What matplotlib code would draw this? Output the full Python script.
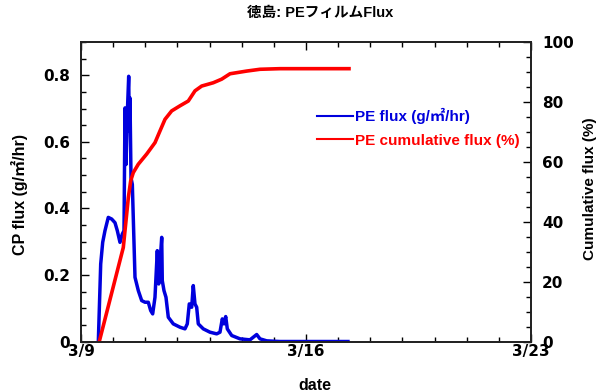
import matplotlib
matplotlib.use("Agg")
import matplotlib.pyplot as plt
from matplotlib.ticker import MultipleLocator, FixedLocator

plt.rcParams['font.family'] = ['DejaVu Sans', 'Noto Sans CJK JP']
plt.rcParams['font.weight'] = 'bold'
LAB_FONT = ['Liberation Sans', 'Noto Sans CJK JP', 'DejaVu Sans']

# PE flux (g/m2/hr) vs day of March
flux_day = [9.539, 9.613, 9.675, 9.746, 9.849, 9.955, 10.058, 10.130, 10.213, 10.285,
            10.338, 10.369, 10.400, 10.440, 10.484, 10.503, 10.524, 10.556, 10.597, 10.680,
            10.783, 10.888, 10.991, 11.094, 11.168, 11.230, 11.302, 11.374, 11.418, 11.457,
            11.511, 11.529, 11.582, 11.644, 11.716, 11.871, 12.080, 12.235, 12.307, 12.369,
            12.444, 12.493, 12.546, 12.599, 12.649, 12.805, 13.013, 13.222, 13.324, 13.396,
            13.449, 13.502, 13.552, 13.689, 13.947, 14.257, 14.466, 14.569, 14.778, 15.191,
            17.306]
flux_val = [0.0, 0.233, 0.298, 0.333, 0.373, 0.368, 0.357, 0.333, 0.298, 0.323,
            0.333, 0.702, 0.532, 0.682, 0.797, 0.632, 0.732, 0.492, 0.472, 0.193,
            0.153, 0.123, 0.118, 0.118, 0.093, 0.083, 0.133, 0.273, 0.173, 0.233,
            0.313, 0.183, 0.153, 0.133, 0.073, 0.053, 0.043, 0.038, 0.053, 0.113,
            0.103, 0.168, 0.113, 0.103, 0.053, 0.038, 0.028, 0.023, 0.028, 0.068,
            0.053, 0.075, 0.038, 0.018, 0.008, 0.005, 0.021, 0.008, 0.002, 0.0,
            0.0]

# PE cumulative flux (%)
cum_day = [9.569, 10.316, 10.400, 10.472, 10.547, 10.627, 10.783, 11.044, 11.302, 11.457,
           11.614, 11.821, 12.080, 12.338, 12.547, 12.755, 13.115, 13.377, 13.636, 14.155,
           14.569, 15.191, 17.338]
cum_val = [0.0, 31.4, 40.3, 48.0, 53.7, 56.4, 59.2, 62.6, 66.4, 70.3,
           74.2, 77.0, 78.7, 80.3, 83.7, 85.3, 86.4, 87.6, 89.4, 90.3,
           90.9, 91.1, 91.1]

x_ticks = [9, 16, 23]
x_ticklabels = ['3/9', '3/16', '3/23']
y_ticks = [0, 0.2, 0.4, 0.6, 0.8]
y_ticklabels = ['0', '0.2', '0.4', '0.6', '0.8']

fig = plt.figure(figsize=(5.96, 3.92), dpi=100)
ax = fig.add_axes([0.1359, 0.1288, 0.755, 0.764])
ax2 = ax.twinx()

l1, = ax.plot(flux_day, flux_val, color='#0000dd', lw=2.5, label='PE flux (g/㎡/hr)')
l2, = ax2.plot(cum_day, cum_val, color='#ff0000', lw=2.6, label='PE cumulative flux (%)')

ax.set_xlim(9, 23)
ax.set_ylim(0, 0.9)
ax2.set_ylim(0, 100)

ax.xaxis.set_major_locator(FixedLocator(x_ticks))
ax.set_xticklabels(x_ticklabels)
ax.xaxis.set_minor_locator(MultipleLocator(1))
ax.set_yticks(y_ticks)
ax.set_yticklabels(y_ticklabels)
ax.yaxis.set_minor_locator(MultipleLocator(0.05))
ax2.yaxis.set_major_locator(MultipleLocator(20))
ax2.yaxis.set_minor_locator(MultipleLocator(5))

ax.tick_params(axis='both', which='both', direction='in', top=True, right=False, labelsize=11)
ax.tick_params(axis='both', which='major', length=6, width=1)
ax.tick_params(axis='both', which='minor', length=3.5, width=1)
ax.tick_params(axis='y', which='major', pad=8)
ax.tick_params(axis='x', which='major', pad=2)
ax2.tick_params(axis='y', which='both', direction='in', labelsize=11)
ax2.tick_params(axis='y', which='major', length=6, width=1, pad=8)
ax2.tick_params(axis='y', which='minor', length=3.5, width=1)

for a in (ax, ax2):
    for s in a.spines.values():
        s.set_linewidth(1.3)
        s.set_color('#222222')

ax.set_xlabel('date', fontsize=11.5, fontweight='bold', family=LAB_FONT)
ax.xaxis.set_label_coords(0.52, -0.147)
ax.xaxis.label.set_va('center')
ax.set_ylabel('CP flux (g/㎡/hr)', fontsize=11.5, fontweight='bold', family=LAB_FONT)
ax.yaxis.set_label_coords(-0.1356, 0.49)
ax.yaxis.label.set_va('center')
ax2.set_ylabel('Cumulative flux (%)', fontsize=11, fontweight='bold', family=LAB_FONT)
ax2.yaxis.set_label_coords(1.131, 0.51)
ax2.yaxis.label.set_va('center')
ax.set_title('徳島: PEフィルムFlux', fontsize=10.5, fontweight='bold', family=LAB_FONT,
             x=0.531, y=1.07, va='center')

leg = ax.legend(handles=[l1, l2], loc='upper left', bbox_to_anchor=(0.511, 0.80),
                frameon=False, prop={'family': LAB_FONT, 'size': 11, 'weight': 'bold'},
                handlelength=2.36, handletextpad=0.15,
                labelspacing=0.62, borderaxespad=0)
for txt, ln in zip(leg.get_texts(), [l1, l2]):
    txt.set_color(ln.get_color())
for h in leg.legend_handles:
    h.set_linewidth(1.5)

fig.savefig('out.png', dpi=100)
